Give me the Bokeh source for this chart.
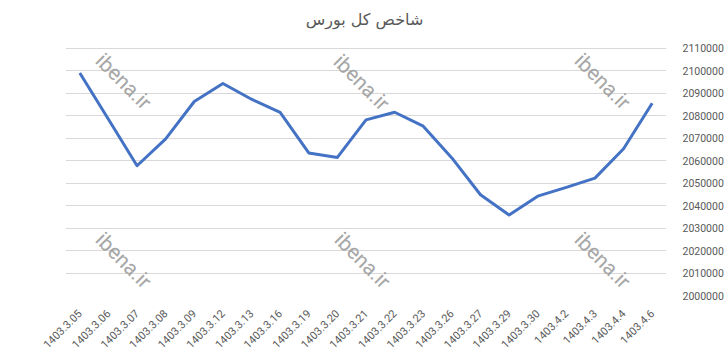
import math
from bokeh.plotting import figure
from bokeh.models import FactorRange, Range1d, FixedTicker, BasicTickFormatter, Label
from bokeh.embed import file_html
from bokeh.resources import INLINE

dates = ["1403.3.05", "1403.3.06", "1403.3.07", "1403.3.08", "1403.3.09", "1403.3.12",
         "1403.3.13", "1403.3.16", "1403.3.19", "1403.3.20", "1403.3.21", "1403.3.22",
         "1403.3.23", "1403.3.26", "1403.3.27", "1403.3.29", "1403.3.30", "1403.4.2",
         "1403.4.3", "1403.4.4", "1403.4.6"]
index_values = [2099000, 2078400, 2057700, 2069700, 2086300, 2094300,
                2087300, 2081500, 2063400, 2061400, 2078100, 2081500,
                2075300, 2061200, 2044800, 2035800, 2044200, 2048100,
                2052200, 2065300, 2085500]
y_ticks = [2000000, 2010000, 2020000, 2030000, 2040000, 2050000,
           2060000, 2070000, 2080000, 2090000, 2100000, 2110000]
title_text = "شاخص کل بورس"
watermark = "ibena.ir"

FL, FB = 65, 299  # frame left / bottom in canvas pixels
# frame reaches the top of the canvas; the 2110000 grid line sits 48px below it
y_top = 2110000 + 48.3 / 250.4 * 110000

p = figure(width=728, height=354, x_range=FactorRange(*dates),
           y_range=Range1d(2000000, y_top),
           output_backend="svg", toolbar_location=None, y_axis_location="right",
           min_border_left=65, min_border_right=62, min_border_top=0, min_border_bottom=55)
p.outline_line_color = None
p.background_fill_color = "white"
p.border_fill_color = "white"

p.line(x=dates, y=index_values, line_color="#4472C4", line_width=3, line_join="round")

p.xgrid.grid_line_color = None
p.ygrid.grid_line_color = "#d9d9d9"
p.ygrid.grid_line_width = 1
p.yaxis.ticker = FixedTicker(ticks=y_ticks)
p.yaxis.formatter = BasicTickFormatter(use_scientific=False)
for ax in (p.xaxis, p.yaxis):
    ax.axis_line_color = None
    ax.major_tick_line_color = None
    ax.minor_tick_line_color = None
    ax.major_label_text_color = "#595959"
    ax.major_label_text_font = "Roboto"
p.yaxis.major_label_text_font_size = "10.5px"
p.yaxis.major_label_standoff = 10
p.xaxis.major_label_text_font_size = "11px"
p.xaxis.major_label_orientation = math.pi / 4
p.xaxis.major_label_standoff = 10

p.add_layout(Label(x=364 - FL, y=FB - 23, x_units="screen", y_units="screen", text=title_text,
                   text_align="center", text_baseline="middle", text_font_size="16px",
                   text_color="#595959", text_font="DejaVu Sans"))

for cx, cy in [(123, 85), (361, 86), (602, 85), (123, 264), (362, 264), (602, 264)]:
    p.add_layout(Label(x=cx - FL, y=FB - cy, x_units="screen", y_units="screen", text=watermark,
                       text_align="center", text_baseline="middle", angle=-math.pi / 4,
                       text_font_size="21px", text_color="#a6a6a6", text_font="Roboto"))

open("out.html", "w").write(file_html(p, INLINE))
